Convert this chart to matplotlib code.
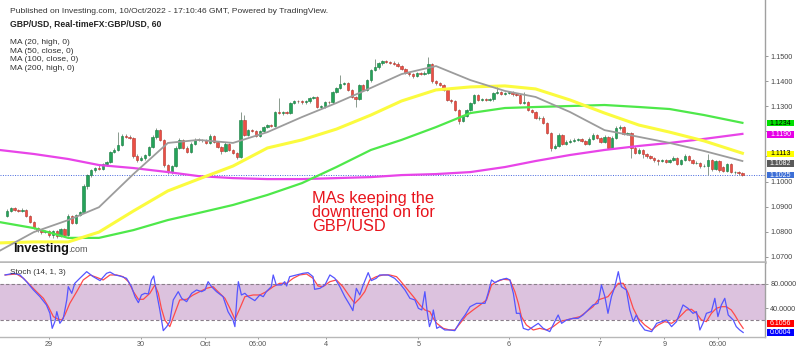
import matplotlib
matplotlib.use("Agg")
import matplotlib.pyplot as plt
import matplotlib.transforms as mtransforms
from matplotlib.patches import Rectangle

plt.rcParams['font.family'] = ['Liberation Sans', 'DejaVu Sans']

# GBP/USD hourly candles (28 Sep - 10 Oct 2022)
opens = [1.0863, 1.0883, 1.0895, 1.0887, 1.0885, 1.0888, 1.0863, 1.0839, 1.0815, 1.0807,
         1.0799, 1.0803, 1.0787, 1.0803, 1.0783, 1.0811, 1.0787, 1.0863, 1.0835, 1.0867,
         1.0879, 1.0982, 1.1026, 1.1046, 1.1054, 1.1050, 1.1070, 1.1078, 1.1118, 1.1126,
         1.1146, 1.1182, 1.1178, 1.1174, 1.1102, 1.1086, 1.1094, 1.1106, 1.1138, 1.1178,
         1.1205, 1.1166, 1.1066, 1.1038, 1.1062, 1.1134, 1.1166, 1.1134, 1.1118, 1.1150,
         1.1166, 1.1164, 1.1166, 1.1154, 1.1182, 1.1158, 1.1138, 1.1122, 1.1150, 1.1126,
         1.1114, 1.1098, 1.1245, 1.1186, 1.1205, 1.1201, 1.1182, 1.1201, 1.1217, 1.1225,
         1.1221, 1.1277, 1.1273, 1.1277, 1.1273, 1.1313, 1.1321, 1.1319, 1.1315, 1.1319,
         1.1333, 1.1337, 1.1297, 1.1301, 1.1317, 1.1315, 1.1357, 1.1373, 1.1389, 1.1392,
         1.1365, 1.1337, 1.1329, 1.1385, 1.1365, 1.1404, 1.1444, 1.1456, 1.1472, 1.1480,
         1.1478, 1.1474, 1.1470, 1.1460, 1.1448, 1.1432, 1.1428, 1.1420, 1.1432, 1.1430,
         1.1434, 1.1468, 1.1400, 1.1393, 1.1385, 1.1365, 1.1325, 1.1321, 1.1285, 1.1241,
         1.1261, 1.1285, 1.1313, 1.1345, 1.1325, 1.1327, 1.1325, 1.1327, 1.1353, 1.1355,
         1.1349, 1.1353, 1.1355, 1.1347, 1.1345, 1.1313, 1.1317, 1.1285, 1.1277, 1.1253,
         1.1255, 1.1233, 1.1193, 1.1134, 1.1142, 1.1186, 1.1150, 1.1158, 1.1162, 1.1166,
         1.1168, 1.1162, 1.1150, 1.1170, 1.1186, 1.1174, 1.1158, 1.1178, 1.1134, 1.1174,
         1.1213, 1.1217, 1.1189, 1.1193, 1.1134, 1.1114, 1.1126, 1.1110, 1.1102, 1.1094,
         1.1086, 1.1084, 1.1086, 1.1078, 1.1086, 1.1094, 1.1070, 1.1086, 1.1102, 1.1086,
         1.1074, 1.1076, 1.1062, 1.1064, 1.1086, 1.1050, 1.1082, 1.1058, 1.1044, 1.1070,
         1.1038, 1.1040, 1.1034]
highs = [1.0890, 1.0900, 1.0899, 1.0892, 1.0893, 1.0891, 1.0866, 1.0843, 1.0820, 1.0812,
         1.0808, 1.0806, 1.0808, 1.0807, 1.0815, 1.0814, 1.0872, 1.0868, 1.0871, 1.0885,
         1.0990, 1.1032, 1.1052, 1.1060, 1.1066, 1.1076, 1.1082, 1.1122, 1.1132, 1.1197,
         1.1190, 1.1188, 1.1184, 1.1178, 1.1108, 1.1100, 1.1110, 1.1142, 1.1184, 1.1213,
         1.1210, 1.1170, 1.1070, 1.1068, 1.1140, 1.1172, 1.1170, 1.1140, 1.1156, 1.1172,
         1.1172, 1.1170, 1.1170, 1.1188, 1.1186, 1.1162, 1.1142, 1.1156, 1.1154, 1.1130,
         1.1118, 1.1277, 1.1265, 1.1211, 1.1210, 1.1207, 1.1206, 1.1222, 1.1230, 1.1230,
         1.1282, 1.1333, 1.1282, 1.1282, 1.1318, 1.1326, 1.1326, 1.1324, 1.1324, 1.1338,
         1.1342, 1.1340, 1.1306, 1.1322, 1.1322, 1.1362, 1.1378, 1.1424, 1.1398, 1.1396,
         1.1370, 1.1342, 1.1390, 1.1390, 1.1410, 1.1450, 1.1488, 1.1478, 1.1486, 1.1486,
         1.1482, 1.1480, 1.1476, 1.1464, 1.1452, 1.1438, 1.1432, 1.1436, 1.1436, 1.1440,
         1.1496, 1.1472, 1.1406, 1.1398, 1.1390, 1.1370, 1.1330, 1.1326, 1.1290, 1.1266,
         1.1290, 1.1318, 1.1350, 1.1350, 1.1332, 1.1332, 1.1333, 1.1358, 1.1385, 1.1360,
         1.1358, 1.1360, 1.1360, 1.1354, 1.1350, 1.1357, 1.1322, 1.1290, 1.1282, 1.1260,
         1.1262, 1.1238, 1.1198, 1.1148, 1.1192, 1.1190, 1.1164, 1.1168, 1.1172, 1.1174,
         1.1172, 1.1166, 1.1176, 1.1192, 1.1190, 1.1178, 1.1184, 1.1182, 1.1180, 1.1221,
         1.1225, 1.1222, 1.1198, 1.1198, 1.1140, 1.1132, 1.1130, 1.1114, 1.1106, 1.1098,
         1.1090, 1.1090, 1.1090, 1.1092, 1.1100, 1.1098, 1.1090, 1.1110, 1.1106, 1.1090,
         1.1082, 1.1080, 1.1070, 1.1110, 1.1090, 1.1088, 1.1086, 1.1064, 1.1076, 1.1074,
         1.1044, 1.1044, 1.1038]
lows = [1.0858, 1.0878, 1.0884, 1.0880, 1.0881, 1.0858, 1.0835, 1.0810, 1.0800, 1.0793,
        1.0795, 1.0780, 1.0776, 1.0774, 1.0779, 1.0782, 1.0784, 1.0830, 1.0831, 1.0862,
        1.0875, 1.0970, 1.1020, 1.1040, 1.1045, 1.1046, 1.1064, 1.1074, 1.1114, 1.1120,
        1.1140, 1.1172, 1.1168, 1.1096, 1.1080, 1.1082, 1.1088, 1.1100, 1.1132, 1.1170,
        1.1160, 1.1060, 1.1030, 1.1032, 1.1058, 1.1128, 1.1128, 1.1112, 1.1114, 1.1144,
        1.1160, 1.1158, 1.1150, 1.1150, 1.1154, 1.1134, 1.1110, 1.1118, 1.1120, 1.1108,
        1.1090, 1.1094, 1.1180, 1.1180, 1.1196, 1.1176, 1.1176, 1.1196, 1.1212, 1.1216,
        1.1216, 1.1268, 1.1266, 1.1268, 1.1268, 1.1308, 1.1314, 1.1310, 1.1310, 1.1314,
        1.1328, 1.1292, 1.1290, 1.1294, 1.1310, 1.1310, 1.1352, 1.1368, 1.1384, 1.1360,
        1.1332, 1.1297, 1.1324, 1.1360, 1.1360, 1.1398, 1.1440, 1.1450, 1.1466, 1.1472,
        1.1470, 1.1466, 1.1456, 1.1444, 1.1428, 1.1422, 1.1414, 1.1416, 1.1426, 1.1426,
        1.1430, 1.1394, 1.1386, 1.1380, 1.1360, 1.1320, 1.1314, 1.1280, 1.1229, 1.1236,
        1.1256, 1.1280, 1.1308, 1.1320, 1.1320, 1.1320, 1.1320, 1.1322, 1.1348, 1.1344,
        1.1344, 1.1348, 1.1342, 1.1340, 1.1308, 1.1308, 1.1280, 1.1272, 1.1248, 1.1246,
        1.1228, 1.1188, 1.1122, 1.1128, 1.1136, 1.1146, 1.1146, 1.1154, 1.1158, 1.1162,
        1.1156, 1.1144, 1.1146, 1.1166, 1.1168, 1.1152, 1.1154, 1.1128, 1.1130, 1.1168,
        1.1206, 1.1184, 1.1184, 1.1094, 1.1108, 1.1108, 1.1094, 1.1096, 1.1090, 1.1080,
        1.1066, 1.1078, 1.1074, 1.1074, 1.1082, 1.1066, 1.1066, 1.1082, 1.1082, 1.1070,
        1.1070, 1.1056, 1.1058, 1.1026, 1.1044, 1.1046, 1.1040, 1.1040, 1.1040, 1.1034,
        1.1032, 1.1028, 1.1022]
closes = [1.0883, 1.0895, 1.0887, 1.0885, 1.0888, 1.0863, 1.0839, 1.0815, 1.0807, 1.0799,
          1.0803, 1.0787, 1.0803, 1.0783, 1.0811, 1.0787, 1.0863, 1.0835, 1.0867, 1.0879,
          1.0982, 1.1026, 1.1046, 1.1054, 1.1050, 1.1070, 1.1078, 1.1118, 1.1126, 1.1146,
          1.1182, 1.1178, 1.1174, 1.1102, 1.1086, 1.1094, 1.1106, 1.1138, 1.1178, 1.1205,
          1.1166, 1.1066, 1.1038, 1.1062, 1.1134, 1.1166, 1.1134, 1.1118, 1.1150, 1.1166,
          1.1164, 1.1166, 1.1154, 1.1182, 1.1158, 1.1138, 1.1122, 1.1150, 1.1126, 1.1114,
          1.1098, 1.1245, 1.1186, 1.1205, 1.1201, 1.1182, 1.1201, 1.1217, 1.1225, 1.1221,
          1.1277, 1.1273, 1.1277, 1.1273, 1.1313, 1.1321, 1.1319, 1.1315, 1.1319, 1.1333,
          1.1337, 1.1297, 1.1301, 1.1317, 1.1315, 1.1357, 1.1373, 1.1389, 1.1392, 1.1365,
          1.1337, 1.1329, 1.1385, 1.1365, 1.1404, 1.1444, 1.1456, 1.1472, 1.1480, 1.1478,
          1.1474, 1.1470, 1.1460, 1.1448, 1.1432, 1.1428, 1.1420, 1.1432, 1.1430, 1.1434,
          1.1468, 1.1400, 1.1393, 1.1385, 1.1365, 1.1325, 1.1321, 1.1285, 1.1241, 1.1261,
          1.1285, 1.1313, 1.1345, 1.1325, 1.1327, 1.1325, 1.1327, 1.1353, 1.1355, 1.1349,
          1.1353, 1.1355, 1.1347, 1.1345, 1.1313, 1.1317, 1.1285, 1.1277, 1.1253, 1.1255,
          1.1233, 1.1193, 1.1134, 1.1142, 1.1186, 1.1150, 1.1158, 1.1162, 1.1166, 1.1168,
          1.1162, 1.1150, 1.1170, 1.1186, 1.1174, 1.1158, 1.1178, 1.1134, 1.1174, 1.1213,
          1.1217, 1.1189, 1.1193, 1.1134, 1.1114, 1.1126, 1.1110, 1.1102, 1.1094, 1.1086,
          1.1084, 1.1086, 1.1078, 1.1086, 1.1094, 1.1070, 1.1086, 1.1102, 1.1086, 1.1074,
          1.1076, 1.1062, 1.1064, 1.1086, 1.1050, 1.1082, 1.1046, 1.1044, 1.1070, 1.1038,
          1.1040, 1.1034, 1.1025]

# moving averages sampled along the chart (bar index -> value)
ma_idx = [-2, 7, 16, 24, 33, 42, 50, 59, 68, 77, 86, 95, 103, 112, 121, 130, 138, 147,
          156, 165, 173, 182, 192]
ma20_high = [1.0724, 1.0799, 1.0847, 1.0898, 1.1030, 1.1154, 1.1166, 1.1154, 1.1197, 1.1257,
             1.1313, 1.1373, 1.1428, 1.1460, 1.1404, 1.1361, 1.1337, 1.1277, 1.1205, 1.1178,
             1.1154, 1.1122, 1.1082]
ma50_close = [1.0756, 1.0760, 1.0760, 1.0799, 1.0883, 1.0963, 1.1010, 1.1062, 1.1134, 1.1166,
              1.1209, 1.1265, 1.1321, 1.1365, 1.1377, 1.1381, 1.1369, 1.1325, 1.1273, 1.1225,
              1.1197, 1.1162, 1.1113]
ma100_close = [1.0839, 1.0815, 1.0776, 1.0776, 1.0807, 1.0847, 1.0875, 1.0907, 1.0947, 1.0994,
               1.1058, 1.1126, 1.1166, 1.1217, 1.1273, 1.1293, 1.1297, 1.1301, 1.1305, 1.1297,
               1.1289, 1.1265, 1.1234]
ma200_high = [1.1126, 1.1110, 1.1090, 1.1066, 1.1054, 1.1038, 1.1022, 1.1014, 1.1010, 1.1010,
              1.1014, 1.1018, 1.1026, 1.1030, 1.1038, 1.1058, 1.1082, 1.1106, 1.1126, 1.1142,
              1.1154, 1.1170, 1.1190]
last_price = 1.1025

# Stochastic (14, 1, 3): (bar index, value)
stoch_k = [(-0.5, 94.3), (1.7, 97.0), (3.4, 94.3), (5.1, 83.3), (6.9, 69.7), (8.6, 58.7),
           (10.3, 45.1), (11.2, 31.4), (11.8, 6.8), (12.5, 17.8), (13.0, 34.2), (13.8, 15.0),
           (14.7, 23.2), (15.6, 53.3), (16.0, 75.1), (16.9, 64.2), (17.7, 80.6), (19.0, 88.8),
           (20.8, 99.7), (22.5, 91.5), (24.3, 85.0), (26.0, 97.0), (26.9, 99.0), (28.2, 94.3),
           (29.5, 92.6), (31.2, 88.8), (32.5, 75.1), (33.4, 58.7), (34.3, 48.9), (35.1, 61.5),
           (36.0, 64.2), (36.9, 63.1), (37.7, 86.1), (38.3, 92.6), (39.0, 66.9), (39.9, 36.9),
           (40.8, 3.0), (41.7, 9.6), (42.5, 17.8), (43.4, 53.3), (44.7, 66.9), (45.6, 56.0),
           (46.9, 50.5), (48.2, 64.2), (49.5, 69.7), (50.8, 66.9), (51.7, 69.7), (52.5, 83.3),
           (53.4, 75.1), (54.7, 66.9), (56.4, 58.7), (57.7, 34.2), (59.0, 20.5), (59.5, 9.6),
           (60.1, 64.2), (60.4, 83.3), (61.2, 61.5), (62.1, 64.2), (63.0, 58.7), (64.7, 52.2),
           (66.0, 61.5), (66.9, 58.7), (67.7, 66.9), (69.0, 75.1), (69.5, 94.3), (70.3, 77.9),
           (71.7, 77.9), (72.5, 83.3), (73.0, 76.2), (73.8, 91.5), (75.6, 94.3), (77.3, 97.0),
           (78.6, 98.1), (79.9, 91.5), (80.3, 70.8), (81.7, 72.4), (83.0, 77.9), (84.3, 94.3),
           (85.6, 88.8), (86.9, 75.1), (88.2, 58.7), (89.5, 45.1), (90.3, 35.8), (91.2, 72.4),
           (92.1, 61.5), (93.0, 77.9), (94.3, 98.1), (95.1, 85.0), (96.4, 88.8), (97.3, 94.3),
           (99.5, 94.3), (101.2, 88.8), (102.5, 80.6), (103.9, 69.7), (105.2, 56.0), (106.5, 53.3),
           (107.4, 39.6), (108.3, 36.9), (109.1, 66.9), (109.7, 34.2), (110.3, 9.6), (110.9, 20.5),
           (111.3, 36.9), (112.2, 6.8), (113.0, 9.6), (114.3, 4.1), (115.6, 4.1), (116.9, 3.0),
           (118.3, 17.8), (119.6, 28.7), (120.9, 42.3), (122.6, 47.8), (124.8, 47.8), (125.6, 64.2),
           (126.5, 86.1), (127.4, 81.7), (128.7, 86.1), (130.4, 88.8), (131.3, 86.1), (132.2, 64.2),
           (133.0, 31.4), (133.9, 31.4), (134.8, 6.8), (136.1, 4.1), (137.4, 9.6), (138.7, 15.0),
           (140.0, 6.8), (141.7, 1.4), (143.0, 17.8), (143.9, 28.7), (144.8, 15.0), (146.1, 20.5),
           (147.8, 23.2), (149.1, 23.2), (150.4, 28.7), (151.7, 36.9), (153.0, 45.1), (154.3, 47.8),
           (155.2, 77.9), (156.1, 58.7), (156.9, 31.4), (157.8, 58.7), (158.7, 75.1), (159.6, 99.7),
           (160.4, 75.1), (161.7, 69.7), (162.6, 36.9), (163.5, 17.8), (164.3, 28.7), (165.2, 15.0),
           (166.5, 4.1), (168.3, 1.4), (169.6, 15.0), (170.9, 17.8), (172.2, 20.5), (173.5, 9.6),
           (174.8, 17.8), (176.5, 45.1), (177.8, 39.6), (179.1, 31.4), (180.0, 34.2), (180.9, 4.1),
           (181.7, 15.0), (182.6, 31.4), (183.9, 34.2), (184.8, 56.0), (185.6, 26.0), (186.5, 45.1),
           (187.4, 56.0), (188.3, 28.7), (189.6, 20.5), (190.4, 9.6), (191.3, 4.1), (192.2, 0.0)]
stoch_d = [(-0.5, 94.3), (2.5, 95.9), (4.3, 88.8), (6.0, 77.9), (7.7, 66.9), (9.5, 56.0),
           (10.8, 42.3), (12.1, 26.0), (13.4, 21.6), (14.3, 20.5), (15.1, 28.7), (16.4, 47.8),
           (18.2, 66.9), (19.9, 86.1), (21.7, 94.3), (23.4, 90.4), (25.1, 86.1), (26.9, 94.3),
           (28.6, 94.3), (30.3, 91.5), (31.7, 83.3), (33.0, 66.9), (34.3, 54.4), (35.6, 54.4),
           (37.3, 64.2), (38.6, 77.9), (39.5, 64.2), (40.3, 39.6), (41.2, 20.5), (42.5, 9.6),
           (43.8, 31.4), (45.1, 53.3), (46.9, 54.4), (48.6, 61.5), (50.3, 66.9), (52.1, 72.4),
           (53.8, 75.1), (55.1, 66.9), (56.9, 56.0), (58.2, 39.6), (59.5, 21.6), (60.8, 39.6),
           (62.1, 58.7), (64.3, 61.5), (66.0, 61.5), (67.7, 66.9), (69.5, 75.1), (71.2, 80.6),
           (73.0, 80.6), (74.7, 88.8), (76.4, 94.3), (78.2, 95.9), (79.9, 88.8), (81.2, 76.2),
           (82.5, 75.1), (84.3, 83.3), (86.0, 86.1), (87.7, 75.1), (89.5, 58.7), (90.8, 47.8),
           (92.1, 56.0), (93.4, 66.9), (94.7, 86.1), (96.4, 91.5), (98.2, 94.3), (99.9, 94.3),
           (101.7, 91.5), (102.5, 86.1), (104.3, 72.4), (106.1, 58.7), (107.8, 45.1), (109.1, 36.9),
           (110.4, 34.2), (111.3, 23.2), (112.2, 15.0), (113.9, 6.8), (115.6, 4.1), (116.9, 4.1),
           (118.3, 15.0), (120.0, 28.7), (121.7, 36.9), (123.5, 45.1), (125.2, 53.3), (126.5, 77.9),
           (127.8, 83.3), (129.6, 87.2), (131.3, 86.1), (132.6, 66.9), (133.5, 47.8), (134.3, 26.0),
           (135.6, 12.3), (137.4, 4.1), (139.1, 6.8), (140.9, 4.1), (142.6, 9.6), (144.3, 17.8),
           (146.1, 20.5), (147.8, 23.2), (149.6, 26.0), (151.3, 34.2), (153.0, 42.3), (154.3, 53.3),
           (155.6, 56.0), (156.9, 58.7), (158.3, 69.7), (159.6, 80.6), (160.9, 80.6), (162.2, 64.2),
           (163.5, 39.6), (164.8, 23.2), (166.5, 12.3), (168.3, 4.1), (170.0, 12.3), (171.7, 17.8),
           (173.5, 15.0), (174.8, 20.5), (176.1, 28.7), (177.4, 36.9), (178.7, 38.0), (180.0, 31.4),
           (181.3, 20.5), (182.6, 17.8), (183.9, 31.4), (185.2, 39.6), (186.5, 42.3), (187.8, 42.3),
           (189.1, 36.9), (190.0, 28.7), (191.3, 15.0), (192.2, 6.8)]

time_ticks = [11.0, 34.9, 51.7, 65.6, 83.3, 107.4, 131.1, 154.7, 171.6, 185.7]
time_labels = ['29', '30', 'Oct', '06:00', '4', '5', '6', '7', '9', '06:00']
price_ticks = [1.07, 1.08, 1.09, 1.10, 1.11, 1.12, 1.13, 1.14, 1.15]
# 1.1100 and 1.1200 sit behind the value tags in the original
price_labels = ['1.0700', '1.0800', '1.0900', '1.1000', '', '', '1.1300', '1.1400', '1.1500']
stoch_ticks = [40, 80]

# right-edge value tags: (value shown, tag position, fill, text colour)
main_tags = [('1.1234', 1.1233, '#00e000', 'black'),
             ('1.1190', 1.1187, '#e600e6', 'white'),
             ('1.1113', 1.1110, '#ffff00', 'black'),
             ('1.1082', 1.1073, '#5a5a5a', 'white'),
             ('1.1025', 1.1026, '#3d6fd6', 'white')]
stoch_tags = [('6.1056', 15.0, '#ff0000', 'white'),
              ('0.0004', 0.0, '#0000ff', 'white')]

fig = plt.figure(figsize=(8, 3.52), dpi=100)
ax = fig.add_axes([0, 90 / 352, 765 / 800, 262 / 352])
axs = fig.add_axes([0, 15 / 352, 765 / 800, 74 / 352])

# candles
idx = list(range(len(closes)))
body_lo = [min(o, c) for o, c in zip(opens, closes)]
body_h = [max(abs(c - o), 0.00012) for o, c in zip(opens, closes)]
fcol = ['#25a35a' if c >= o else '#ec4f45' for o, c in zip(opens, closes)]
ecol = ['#167a3e' if c >= o else '#b5322a' for o, c in zip(opens, closes)]
ax.vlines(idx, lows, highs, colors='#8a9a8e', lw=0.7, zorder=3)
ax.bar(idx, body_h, bottom=body_lo, width=0.62, color=fcol, edgecolor=ecol,
       linewidth=0.4, zorder=3)

# moving averages
ax.plot(ma_idx, ma200_high, color='#e844e8', lw=1.6, zorder=4)
ax.plot(ma_idx, ma100_close, color='#4ee84a', lw=1.6, zorder=4)
ax.plot(ma_idx, ma50_close, color='#fbfb3e', lw=2.2, zorder=4)
ax.plot(ma_idx, ma20_high, color='#9c9c9c', lw=1.3, zorder=4)
ax.axhline(last_price, color='#4466dd', lw=0.7, ls=(0, (1, 1.5)), zorder=2)

ax.set_xlim(-1.83, 197.9)
ax.set_ylim(1.0680, 1.1723)
ax.set_xticks([])
ax.yaxis.tick_right()
ax.set_yticks(price_ticks)
ax.set_yticklabels(price_labels)
ax.tick_params(axis='y', length=2.2, width=0.6, color='#888888', labelsize=5.2,
               labelcolor='#444444', pad=1.5)
for s in ['top', 'left']:
    ax.spines[s].set_visible(False)
ax.spines['bottom'].set_color('#b8b8b8')
ax.spines['bottom'].set_linewidth(1.8)
ax.spines['right'].set_color('#a0a0a0')
ax.spines['right'].set_linewidth(1.0)

# stochastic panel
axs.axhspan(20, 80, color='#dcc2de', lw=0, zorder=1)
axs.axhline(80, color='#8a7f8a', lw=0.8, ls=(0, (3, 2)), zorder=2)
axs.axhline(20, color='#8a7f8a', lw=0.8, ls=(0, (3, 2)), zorder=2)
axs.plot([p[0] for p in stoch_d], [p[1] for p in stoch_d], color='#ff4a4a', lw=0.9, zorder=3)
axs.plot([p[0] for p in stoch_k], [p[1] for p in stoch_k], color='#5555ff', lw=0.9, zorder=4)
axs.set_xlim(-1.83, 197.9)
axs.set_ylim(-7.4, 113.9)
axs.yaxis.tick_right()
axs.set_yticks(stoch_ticks)
axs.set_yticklabels([f'{v:.4f}' for v in stoch_ticks])
axs.tick_params(axis='y', length=2.2, width=0.6, color='#888888', labelsize=5.2,
                labelcolor='#444444', pad=1.5)
axs.set_xticks(time_ticks)
axs.set_xticklabels(time_labels)
axs.tick_params(axis='x', length=1.5, width=0.6, color='#888888', labelsize=5.2,
                labelcolor='#555555', pad=1.5)
for s in ['top', 'left']:
    axs.spines[s].set_visible(False)
axs.spines['bottom'].set_color('#b8b8b8')
axs.spines['bottom'].set_linewidth(1.0)
axs.spines['right'].set_color('#a0a0a0')
axs.spines['right'].set_linewidth(1.0)


def value_tags(axis, tags, box_h):
    tr = mtransforms.blended_transform_factory(axis.transAxes, axis.transData)
    x0, w = 1.0026, 27 / 765
    for txt, y, fc, tc in tags:
        axis.add_patch(Rectangle((x0, y - box_h / 2), w, box_h, transform=tr, fc=fc,
                                 ec='none', clip_on=False, zorder=6))
        axis.text(x0 + w / 2, y, txt, transform=tr, ha='center', va='center',
                  fontsize=5.0, color=tc, clip_on=False, zorder=7)


value_tags(ax, main_tags, 0.0027)
value_tags(axs, stoch_tags, 10.8)

# header and legend texts
fig.text(10 / 800, 1 - 11.7 / 352, 'Published on Investing.com, 10/Oct/2022 - 17:10:46 GMT, Powered by TradingView.',
         fontsize=6.1, color='#333333', va='center')
fig.text(10 / 800, 1 - 24 / 352, 'GBP/USD, Real-timeFX:GBP/USD, 60', fontsize=6.2,
         fontweight='bold', color='#222222', va='center')
for k, lab in enumerate(['MA (20, high, 0)', 'MA (50, close, 0)', 'MA (100, close, 0)', 'MA (200, high, 0)']):
    fig.text(10 / 800, 1 - (43 + 8.4 * k) / 352, lab, fontsize=6.0, color='#333333', va='center')
fig.text(10 / 800, 1 - 273 / 352, 'Stoch (14, 1, 3)', fontsize=5.9, color='#333333', va='center')

# logo
fig.text(13 / 800, 1 - 249 / 352, 'Investing', fontsize=9.2, fontweight='bold', color='#111111',
         va='center')
fig.text(68 / 800, 1 - 250 / 352, '.com', fontsize=6.5, color='#555555', va='center')

# annotation
fig.text(312 / 800, 1 - 191 / 352, 'MAs keeping the\ndowntrend on for\nGBP/USD', color='#e8141c',
         fontsize=11.8, va='top', ha='left', linespacing=0.92)

fig.savefig('out.png', dpi=100, facecolor='white')
